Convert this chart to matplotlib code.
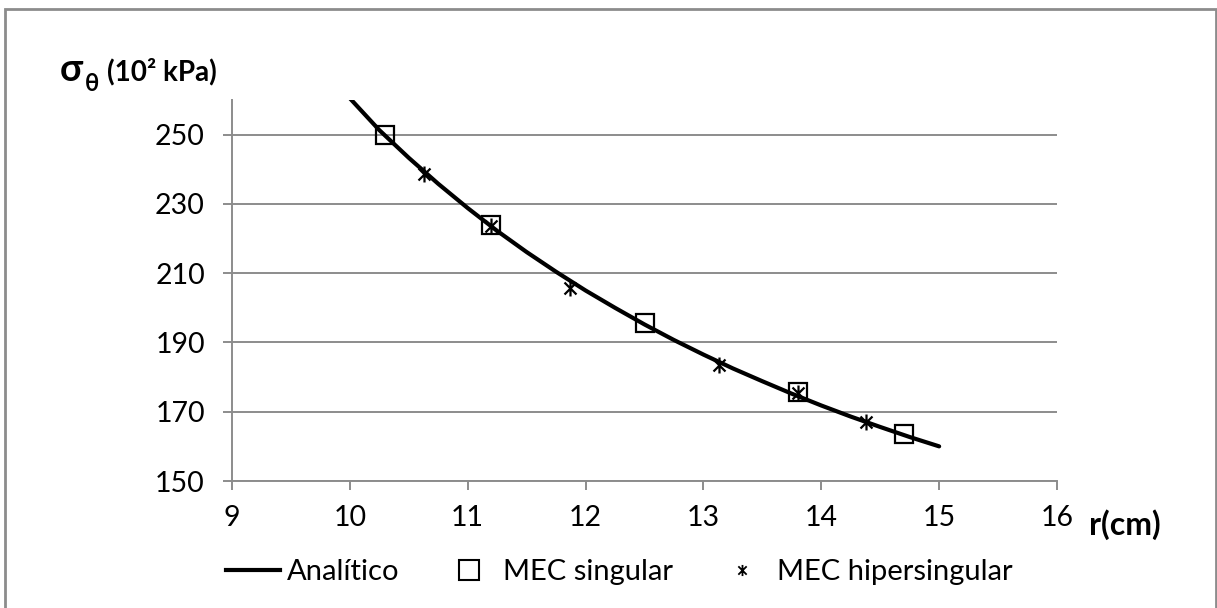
import numpy as np
import matplotlib
matplotlib.use("Agg")
import matplotlib.pyplot as plt
from matplotlib.path import Path
from matplotlib.patches import Rectangle
from matplotlib.lines import Line2D

plt.rcParams['font.family'] = ['Lato', 'DejaVu Sans']

# Analytic curve
r_anal = [10.0, 10.25, 10.5, 10.75, 11.0, 11.25, 11.5, 11.75, 12.0, 12.25, 12.5,
          12.75, 13.0, 13.25, 13.5, 13.75, 14.0, 14.25, 14.5, 14.75, 15.0]
s_anal = [260.5, 251.3, 243.3, 235.8, 228.8, 222.2, 216.1, 210.4, 205.0, 200.0, 195.2,
          190.7, 186.5, 182.5, 178.8, 175.2, 171.8, 168.6, 165.6, 162.7, 160.0]

# MEC singular
r_sing = [10.3, 11.2, 12.5, 13.8, 14.7]
s_sing = [249.8, 223.8, 195.6, 175.6, 163.6]

# MEC hipersingular
r_hip = [10.63, 11.2, 11.87, 13.13, 13.8, 14.38]
s_hip = [238.6, 223.6, 205.6, 183.6, 175.4, 167.1]

x_ticks = [9, 10, 11, 12, 13, 14, 15, 16]
y_ticks = [150, 170, 190, 210, 230, 250]

grid_c = '#8c8c8c'

# custom asterisk marker: X with vertical bar
star = Path([(0, -1), (0, 1), (-0.75, -0.75), (0.75, 0.75), (-0.75, 0.75), (0.75, -0.75)],
            [Path.MOVETO, Path.LINETO, Path.MOVETO, Path.LINETO, Path.MOVETO, Path.LINETO])

fig = plt.figure(figsize=(12.17, 6.08), dpi=100)
ax = fig.add_axes([232/1217, 1-481/608, (1057-232)/1217, (481-100)/608])

ax.plot(r_anal, s_anal, color='black', lw=3.0, solid_capstyle='round', zorder=3)
ax.plot(r_sing, s_sing, ls='none', marker='s', markersize=13, markerfacecolor='none',
        markeredgecolor='black', markeredgewidth=1.6, zorder=4)
ax.plot(r_hip, s_hip, ls='none', marker=star, markersize=11.5, markerfacecolor='none',
        markeredgecolor='black', markeredgewidth=1.6, zorder=5)

ax.set_xlim(9, 16)
ax.set_ylim(150, 260)
ax.set_xticks(x_ticks)
ax.set_yticks(y_ticks)
ax.yaxis.grid(True, color=grid_c, lw=1.4)
ax.set_axisbelow(True)
for s in ['top', 'right']:
    ax.spines[s].set_visible(False)
for s in ['left', 'bottom']:
    ax.spines[s].set_color(grid_c)
    ax.spines[s].set_linewidth(1.4)
ax.tick_params(axis='both', color=grid_c, width=1.4, length=6.5, labelsize=20.5,
               direction='out')
ax.tick_params(axis='y', pad=13)
ax.tick_params(axis='x', pad=11)

# axis labels
fig.text(60/1217, 1-81/608, 'σ', fontsize=27, fontweight='bold', va='baseline', ha='left')
fig.text(85/1217, 1-91/608, 'θ', fontsize=17, fontweight='bold', va='baseline', ha='left')
fig.text(107/1217, 1-80/608, '(10² kPa)', fontsize=20, fontweight='bold', va='baseline', ha='left')
fig.text(1089/1217, 1-525/608, 'r(cm)', fontsize=23, fontweight='bold', va='center', ha='left')

handles = [Line2D([], [], color='black', lw=3.0),
           Line2D([], [], ls='none', marker='s', markersize=14, markerfacecolor='none',
                  markeredgecolor='black', markeredgewidth=1.5),
           Line2D([], [], ls='none', marker=star, markersize=8, markerfacecolor='none',
                  markeredgecolor='black', markeredgewidth=1.3)]
labels = ['Analítico', 'MEC singular', 'MEC hipersingular']
fig.legend(handles, labels, loc='center', bbox_to_anchor=(619/1217, 1-572/608), ncol=3,
           frameon=False, fontsize=21, handlelength=1.85, handletextpad=0.25,
           columnspacing=1.45, borderpad=0, borderaxespad=0)

fig.patches.append(Rectangle((5/1217, -0.05), (1216-5)/1217, 1.05-9/608,
                             transform=fig.transFigure, fill=False,
                             edgecolor='#8c8c8c', lw=2, clip_on=False))

fig.savefig('out.png', dpi=100)
